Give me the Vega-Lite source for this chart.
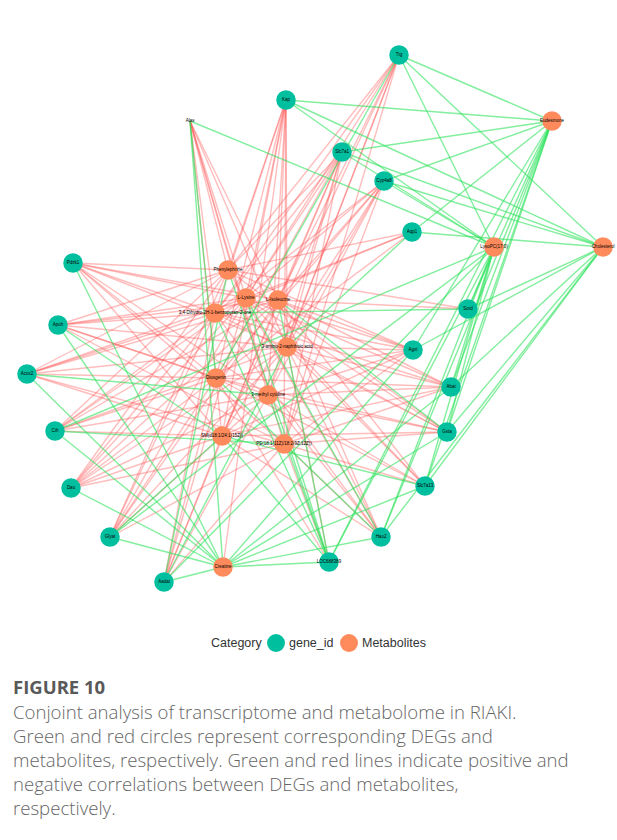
{
  "$schema": "https://vega.github.io/schema/vega-lite/v6.json",
  "width": 617,
  "height": 840,
  "padding": 0,
  "autosize": {"type": "none"},
  "background": "white",
  "config": {"view": {"stroke": null}},
  "title": {
    "text": "FIGURE 10",
    "subtitle": [
      "Conjoint analysis of transcriptome and metabolome in RIAKI.",
      "Green and red circles represent corresponding DEGs and",
      "metabolites, respectively. Green and red lines indicate positive and",
      "negative correlations between DEGs and metabolites,",
      "respectively."
    ],
    "orient": "bottom",
    "anchor": "start",
    "offset": -161,
    "dx": 13,
    "font": "Open Sans",
    "fontSize": 18.5,
    "fontWeight": "bold",
    "color": "#595959",
    "subtitleFont": "Open Sans",
    "subtitleFontSize": 18.6,
    "subtitleFontWeight": 300,
    "subtitleColor": "#666666",
    "subtitleLineHeight": 24,
    "subtitlePadding": 6
  },
  "datasets": {
    "nodes": [
      {"id": "g1", "label": "Ttg", "cat": "gene_id", "x": 399, "y": 55},
      {"id": "g2", "label": "Kap", "cat": "gene_id", "x": 286, "y": 100},
      {"id": "g3", "label": "Slc7a1", "cat": "gene_id", "x": 342, "y": 152},
      {"id": "g4", "label": "Cyp4a8", "cat": "gene_id", "x": 384, "y": 181},
      {"id": "g5", "label": "Aqp1", "cat": "gene_id", "x": 412, "y": 232},
      {"id": "g6", "label": "Pdzk1", "cat": "gene_id", "x": 73, "y": 263},
      {"id": "g7", "label": "Apoh", "cat": "gene_id", "x": 58, "y": 325},
      {"id": "g8", "label": "Acox2", "cat": "gene_id", "x": 27, "y": 374},
      {"id": "g9", "label": "Cth", "cat": "gene_id", "x": 55, "y": 431},
      {"id": "g10", "label": "Dao", "cat": "gene_id", "x": 71, "y": 488},
      {"id": "g11", "label": "Glyat", "cat": "gene_id", "x": 110, "y": 537},
      {"id": "g12", "label": "Aadat", "cat": "gene_id", "x": 164, "y": 582},
      {"id": "g13", "label": "LOC688389", "cat": "gene_id", "x": 329, "y": 562},
      {"id": "g14", "label": "Hao2", "cat": "gene_id", "x": 381, "y": 537},
      {"id": "g15", "label": "Slc7a13", "cat": "gene_id", "x": 425, "y": 486},
      {"id": "g16", "label": "Gsta", "cat": "gene_id", "x": 447, "y": 432},
      {"id": "g17", "label": "Abat", "cat": "gene_id", "x": 451, "y": 387},
      {"id": "g18", "label": "Agxt", "cat": "gene_id", "x": 413, "y": 350},
      {"id": "g19", "label": "Sord", "cat": "gene_id", "x": 468, "y": 309},
      {"id": "g20", "label": "Alas", "cat": "gene_id", "x": 190, "y": 121},
      {"id": "m1", "label": "Eudesmone", "cat": "Metabolites", "x": 552, "y": 121},
      {"id": "m2", "label": "LysoPC(17:0)", "cat": "Metabolites", "x": 494, "y": 247},
      {"id": "m3", "label": "Cholesterol", "cat": "Metabolites", "x": 603, "y": 247},
      {"id": "m4", "label": "Phenylephrine", "cat": "Metabolites", "x": 228, "y": 270},
      {"id": "m5", "label": "L-Lysine", "cat": "Metabolites", "x": 246, "y": 298},
      {"id": "m6", "label": "L-Isoleucine", "cat": "Metabolites", "x": 278, "y": 300},
      {"id": "m7", "label": "3,4-Dihydro-2H-1-benzopyran-2-one", "cat": "Metabolites", "x": 215, "y": 313},
      {"id": "m8", "label": "3-amino-2-naphthoic acid", "cat": "Metabolites", "x": 287, "y": 347},
      {"id": "m9", "label": "Diosgenin", "cat": "Metabolites", "x": 216, "y": 378},
      {"id": "m10", "label": "3-methyl cytidine", "cat": "Metabolites", "x": 268, "y": 395},
      {"id": "m11", "label": "SM(d18:1/24:1(15Z))", "cat": "Metabolites", "x": 222, "y": 436},
      {"id": "m12", "label": "PE(18:1(11Z)/18:2(9Z,12Z))", "cat": "Metabolites", "x": 284, "y": 444},
      {"id": "m13", "label": "Creatine", "cat": "Metabolites", "x": 223, "y": 567}
    ],
    "links": [
      {"m": "m4", "c": "neg", "g": ["g6", "g7", "g8", "g9", "g10", "g11", "g2", "g1", "g3", "g5", "g20", "g18", "g19", "g16", "g14"]},
      {"m": "m5", "c": "neg", "g": ["g6", "g7", "g8", "g9", "g10", "g11", "g12", "g1", "g2", "g3", "g4", "g5", "g20", "g18", "g17", "g16", "g15"]},
      {"m": "m6", "c": "neg", "g": ["g6", "g7", "g8", "g9", "g10", "g11", "g12", "g1", "g2", "g3", "g4", "g20", "g18", "g19", "g17", "g15", "g14"]},
      {"m": "m7", "c": "neg", "g": ["g6", "g7", "g8", "g9", "g10", "g11", "g12", "g1", "g2", "g3", "g4", "g5", "g20", "g18", "g17", "g16", "g14"]},
      {"m": "m8", "c": "neg", "g": ["g6", "g7", "g8", "g9", "g10", "g11", "g1", "g2", "g3", "g4", "g20", "g18", "g17", "g16", "g15", "g14", "g13"]},
      {"m": "m9", "c": "neg", "g": ["g6", "g7", "g8", "g9", "g10", "g11", "g12", "g2", "g3", "g4", "g5", "g18", "g17", "g16", "g15", "g13"]},
      {"m": "m10", "c": "neg", "g": ["g6", "g7", "g9", "g10", "g11", "g12", "g1", "g2", "g3", "g4", "g20", "g18", "g17", "g16", "g15", "g14"]},
      {"m": "m11", "c": "neg", "g": ["g6", "g8", "g9", "g10", "g12", "g1", "g2", "g3", "g4", "g20", "g18", "g17", "g16", "g14"]},
      {"m": "m12", "c": "neg", "g": ["g6", "g7", "g8", "g10", "g11", "g12", "g1", "g2", "g3", "g4", "g20", "g18", "g17", "g16", "g15", "g14", "g13"]},
      {"m": "m13", "c": "neg", "g": ["g2"]},
      {"m": "m1", "c": "pos", "g": ["g1", "g2", "g3", "g4", "g5", "g19", "g18", "g17", "g16", "g15", "g14", "g13"]},
      {"m": "m2", "c": "pos", "g": ["g1", "g2", "g3", "g4", "g20", "g19", "g17", "g16", "g15", "g14", "g13", "g11", "g12", "g9"]},
      {"m": "m3", "c": "pos", "g": ["g1", "g2", "g3", "g4", "g5", "g19", "g18", "g17", "g16", "g15", "g14"]},
      {"m": "m13", "c": "pos", "g": ["g6", "g7", "g8", "g9", "g10", "g11", "g12", "g13", "g14", "g15", "g16", "g17", "g18", "g20"]},
      {"m": "m4", "c": "pos", "g": ["g12", "g13"]},
      {"m": "m5", "c": "pos", "g": ["g13", "g14"]},
      {"m": "m6", "c": "pos", "g": ["g13", "g16"]},
      {"m": "m7", "c": "pos", "g": ["g13", "g19"]},
      {"m": "m8", "c": "pos", "g": ["g12", "g5"]},
      {"m": "m9", "c": "pos", "g": ["g20", "g14", "g1"]},
      {"m": "m10", "c": "pos", "g": ["g8", "g13"]},
      {"m": "m11", "c": "pos", "g": ["g7", "g11", "g13", "g15"]},
      {"m": "m12", "c": "pos", "g": ["g9"]}
    ]
  },
  "layer": [
    {
      "data": {"name": "links"},
      "transform": [
        {"flatten": ["g"]},
        {"lookup": "g", "from": {"data": {"name": "nodes"}, "key": "id", "fields": ["x", "y"]}, "as": ["gx", "gy"]},
        {"lookup": "m", "from": {"data": {"name": "nodes"}, "key": "id", "fields": ["x", "y"]}, "as": ["mx", "my"]}
      ],
      "mark": {"type": "rule", "strokeWidth": 1.4},
      "encoding": {
        "x": {"field": "gx", "type": "quantitative", "scale": {"domain": [0, 617], "nice": false, "zero": false}, "axis": null},
        "y": {"field": "gy", "type": "quantitative", "scale": {"domain": [0, 840], "nice": false, "zero": false, "reverse": true}, "axis": null},
        "x2": {"field": "mx"},
        "y2": {"field": "my"},
        "stroke": {"field": "c", "type": "nominal", "scale": {"domain": ["neg", "pos"], "range": ["#ff5252", "#2fe35e"]}, "legend": null},
        "strokeOpacity": {"field": "c", "type": "nominal", "scale": {"domain": ["neg", "pos"], "range": [0.38, 0.6]}, "legend": null}
      }
    },
    {
      "data": {"name": "nodes"},
      "transform": [{"filter": "datum.id != 'g20'"}],
      "mark": {"type": "point", "filled": true, "size": 380, "opacity": 1},
      "encoding": {
        "x": {"field": "x", "type": "quantitative"},
        "y": {"field": "y", "type": "quantitative"},
        "fill": {
          "field": "cat",
          "type": "nominal",
          "scale": {"domain": ["gene_id", "Metabolites"], "range": ["#00bf9f", "#ff8a5b"]},
          "legend": {
            "title": "Category",
            "orient": "none",
            "legendX": 211,
            "legendY": 634,
            "direction": "horizontal",
            "titleOrient": "left",
            "titleFont": "Liberation Sans",
            "titleFontSize": 12.5,
            "titleFontWeight": "normal",
            "titleColor": "#333333",
            "labelFont": "Liberation Sans",
            "labelFontSize": 12.5,
            "labelColor": "#333333",
            "symbolSize": 320,
            "symbolType": "circle",
            "symbolStrokeWidth": 0,
            "columnPadding": 6
          }
        }
      }
    },
    {
      "data": {"name": "nodes"},
      "mark": {"type": "text", "font": "Liberation Sans", "fontSize": 4.5, "color": "#000000"},
      "encoding": {
        "x": {"field": "x", "type": "quantitative"},
        "y": {"field": "y", "type": "quantitative"},
        "text": {"field": "label"}
      }
    },
    {
      "mark": {"type": "rule", "color": "#dcdcdc", "strokeWidth": 1},
      "encoding": {"x": {"datum": 11}, "y": {"datum": 12}, "y2": {"datum": 840}}
    },
    {
      "mark": {"type": "rule", "color": "#dcdcdc", "strokeWidth": 1},
      "encoding": {"y": {"datum": 12}, "x": {"datum": 11}, "x2": {"datum": 617}}
    }
  ]
}
